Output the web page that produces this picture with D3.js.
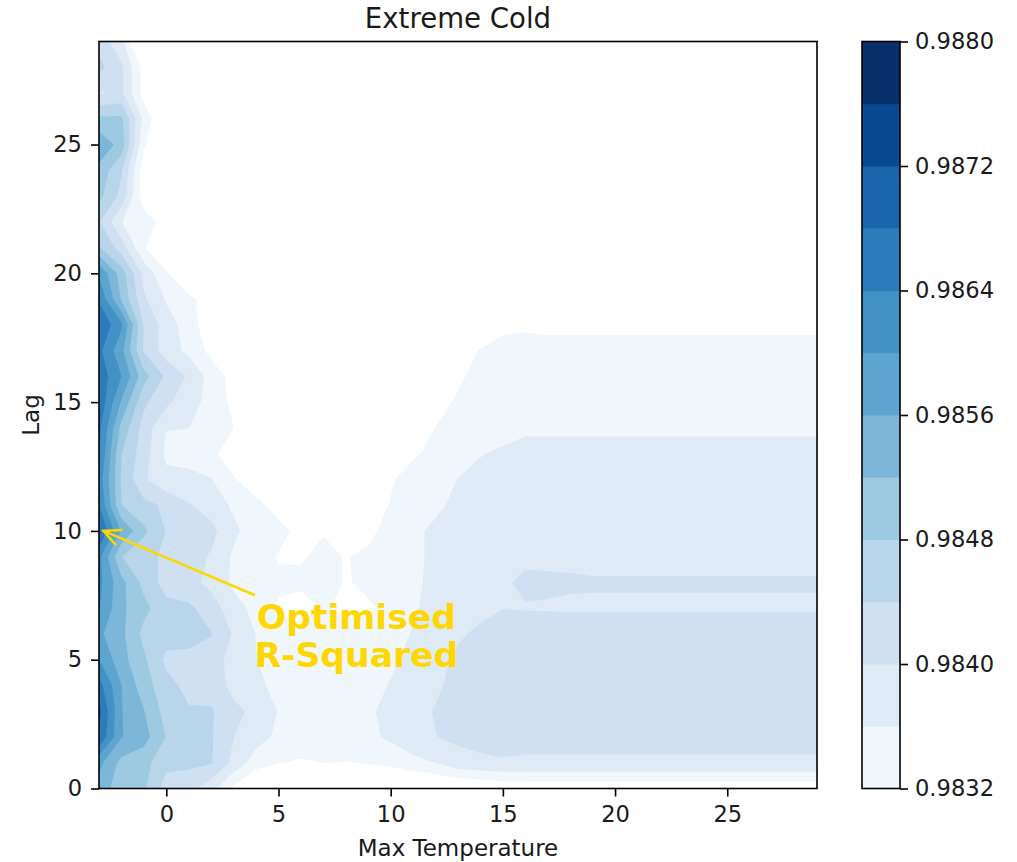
<!DOCTYPE html>
<html><head><meta charset="utf-8">
<script src="https://cdn.jsdelivr.net/npm/d3@7"></script>
<style>html,body{margin:0;padding:0;background:#fff}svg{display:block}
text{font-family:"DejaVu Sans",sans-serif;fill:#1a1a1a}</style>
</head><body><svg id="c" width="1017" height="862"></svg>
<script>
const chartTitle = "Extreme Cold";
const xLabel = "Max Temperature";
const yLabel = "Lag";
const xTicks = [0, 5, 10, 15, 20, 25];
const yTicks = [0, 5, 10, 15, 20, 25];
const colorbarTicks = [0.9832, 0.984, 0.9848, 0.9856, 0.9864, 0.9872, 0.988];
const levels = [0.9832,0.9836,0.984,0.9844,0.9848,0.9852,0.9856,0.986,0.9864,0.9868,0.9872,0.9876,0.988];
const bandColors = ["#eff6fc","#deebf7","#cee0f2","#b9d5ea","#9ecae1","#7cb7da","#5da5d1","#4292c6","#2c7cbb","#1966ad","#084a92","#08306b"];
const temperatures = [-3,-2,-1,0,1,2,3,4,5,6,7,8,9,10,11,12,13,14,15,16,17,18,19,20,21,22,23,24,25,26,27,28,29];
const rSquaredFloor = 0.9832, rSquaredStep = 0.0004;
// R-squared per lag and temperature, in steps above the floor
const lag00=[5.5,4.5,4.2,2.5,2.3,1.4,-.2,-1.5,-1.2,-1.2,-1.2,-1.2,-1,-1.1,-1.5,-1.2,-1.1,-.98,-.75,-.66,-.66,-.66,-.66,-.66,-.66,-.66,-.66,-.66,-.66,-.66,-.66,-.66,-.66];
const lag01=[6.3,4.7,4.35,3.3,3.25,3.08,1.7,.5,.02,-.1,.01,-.03,.05,.2,.74,1.01,1.63,1.85,1.95,1.9,1.9,1.9,1.9,1.9,1.9,1.9,1.9,1.9,1.9,1.9,1.9,1.9,1.9];
const lag02=[8.9,6.05,5.4,3.95,3.5,3.1,2.02,1.4,.8,.5,.5,.55,.75,1.2,1.6,1.98,2.2,2.25,2.2,2.2,2.2,2.2,2.2,2.2,2.2,2.2,2.2,2.2,2.2,2.2,2.2,2.2,2.2];
const lag03=[9.3,6.05,5.05,3.6,3.1,3.1,2.25,1.75,.95,.6,.55,.6,.85,1.3,1.75,2.05,2.3,2.4,2.4,2.4,2.4,2.4,2.4,2.4,2.4,2.4,2.4,2.4,2.4,2.4,2.4,2.4,2.4];
const lag04=[8.4,6.02,4.45,3.35,2.7,2.6,1.7,1.2,.75,.5,.45,.5,.7,1.05,1.45,1.85,2.3,2.4,2.45,2.4,2.4,2.4,2.4,2.4,2.4,2.4,2.4,2.4,2.4,2.4,2.4,2.4,2.4];
const lag05=[7.02,5.35,4.2,2.75,2.7,2.55,1.55,1.02,.55,.45,.4,.4,.55,.85,1.25,1.75,2.15,2.35,2.4,2.4,2.4,2.4,2.4,2.4,2.4,2.4,2.4,2.4,2.4,2.4,2.4,2.4,2.4];
const lag06=[6.2,5.25,3.7,3.45,3.4,3.05,1.9,.97,.5,.4,.35,.35,.4,.7,1.05,1.45,1.9,2.15,2.25,2.3,2.3,2.3,2.3,2.3,2.3,2.3,2.3,2.3,2.3,2.3,2.3,2.3,2.3];
const lag07=[7.1,5.2,4.3,3.3,3.2,2.5,1.4,.7,-.1,-.4,.1,-.2,-.15,.25,.9,1.3,1.55,1.8,1.99,1.97,1.96,1.95,1.95,1.95,1.95,1.95,1.95,1.95,1.95,1.95,1.95,1.95,1.95];
const lag08=[7.3,5.3,3.7,2.6,2.3,1.75,.8,.65,.15,.2,.5,-.1,.25,.6,.85,1.2,1.5,1.75,1.93,2.1,2.07,2.04,2.033,2.033,2.033,2.033,2.033,2.033,2.033,2.033,2.033,2.033,2.033];
const lag09=[7.3,4.02,3.4,2.75,2.4,1.9,.85,.4,-.06,-.1,.25,-.05,.2,.6,.85,1.15,1.45,1.7,1.8,1.9,1.91,1.93,1.9,1.9,1.9,1.9,1.9,1.9,1.9,1.9,1.9,1.9,1.9];
const lag10=[9.2,5.9,4.2,2.95,2.7,2.3,1.2,.5,.3,-.3,-.07,-.4,-.3,.45,.8,1.2,1.45,1.6,1.65,1.7,1.7,1.7,1.7,1.7,1.7,1.7,1.7,1.7,1.7,1.7,1.7,1.7,1.7];
const lag11=[8.02,4.02,3.3,2.8,2.1,1.5,.85,.3,-.4,-.7,-.8,-.7,-.4,.05,.5,.8,1.25,1.4,1.5,1.55,1.55,1.55,1.55,1.55,1.55,1.55,1.55,1.55,1.55,1.55,1.55,1.55,1.55];
const lag12=[7.6,3.9,2.15,1.25,1.25,1.05,.1,-.7,-1,-1.1,-1.1,-1,-.7,-.08,.3,.7,1.02,1.3,1.4,1.45,1.45,1.45,1.45,1.45,1.45,1.45,1.45,1.45,1.45,1.45,1.45,1.45,1.45];
const lag13=[8.1,4.02,2.45,.8,.65,.2,-.5,-1,-1.2,-1.2,-1.2,-1.2,-1,-.6,-.1,.2,.6,.95,1.15,1.3,1.3,1.3,1.3,1.3,1.3,1.3,1.3,1.3,1.3,1.3,1.3,1.3,1.3];
const lag14=[8.3,4.7,2.6,1.03,1.01,.6,.02,-.9,-1.2,-1.3,-1.3,-1.3,-1.2,-.8,-.3,.01,.35,.55,.65,.85,.85,.85,.85,.85,.85,.85,.85,.85,.85,.85,.85,.85,.85];
const lag15=[8.8,5.9,3.2,2.25,1.35,.7,-.28,-.9,-1.2,-1.3,-1.3,-1.3,-1.2,-1,-.5,-.2,.08,.4,.55,.6,.6,.6,.6,.6,.6,.6,.6,.6,.6,.6,.6,.6,.6];
const lag16=[8.65,7.02,4.4,2.8,1.85,.6,-.4,-.9,-1.2,-1.3,-1.3,-1.3,-1.3,-1.1,-.8,-.4,-.1,.2,.4,.45,.45,.45,.45,.45,.45,.45,.45,.45,.45,.45,.45,.45,.45];
const lag17=[8.3,6.3,2.9,1.5,.75,-.3,-1,-1.2,-1.3,-1.3,-1.3,-1.3,-1.3,-1.2,-1,-.6,-.25,.03,.25,.2,.18,.18,.18,.18,.18,.18,.18,.18,.18,.18,.18,.18,.18];
const lag18=[8.9,7.2,2.9,1.5,.5,-.7,-1.2,-1.3,-1.3,-1.3,-1.3,-1.3,-1.3,-1.3,-1.2,-.9,-.6,-.4,-.17,-.08,-.12,-.12,-.12,-.12,-.12,-.12,-.12,-.12,-.12,-.12,-.12,-.12,-.12];
const lag19=[7.9,4.9,2.15,.9,.25,-.5,-1.2,-1.3,-1.3,-1.3,-1.3,-1.3,-1.3,-1.3,-1.3,-1.2,-1.1,-1,-1,-1,-1,-1,-1,-1,-1,-1,-1,-1,-1,-1,-1,-1,-1];
const lag20=[6.9,4.5,1.7,.1,-1,-1.2,-1.3,-1.3,-1.3,-1.3,-1.3,-1.3,-1.3,-1.3,-1.3,-1.3,-1.2,-1.2,-1.2,-1.2,-1.2,-1.2,-1.2,-1.2,-1.2,-1.2,-1.2,-1.2,-1.2,-1.2,-1.2,-1.2,-1.2];
const lag21=[4.1,2.5,.1,-1.2,-1.3,-1.3,-1.3,-1.3,-1.3,-1.3,-1.3,-1.3,-1.3,-1.3,-1.3,-1.3,-1.3,-1.3,-1.3,-1.3,-1.3,-1.3,-1.3,-1.3,-1.3,-1.3,-1.3,-1.3,-1.3,-1.3,-1.3,-1.3,-1.3];
const lag22=[3.1,1.02,.5,-.4,-1.3,-1.3,-1.3,-1.3,-1.3,-1.3,-1.3,-1.3,-1.3,-1.3,-1.3,-1.3,-1.3,-1.3,-1.3,-1.3,-1.3,-1.3,-1.3,-1.3,-1.3,-1.3,-1.3,-1.3,-1.3,-1.3,-1.3,-1.3,-1.3];
const lag23=[4.3,2.7,-.6,-1.5,-1.5,-1.5,-1.5,-1.5,-1.5,-1.5,-1.5,-1.5,-1.5,-1.5,-1.5,-1.5,-1.5,-1.5,-1.5,-1.5,-1.5,-1.5,-1.5,-1.5,-1.5,-1.5,-1.5,-1.5,-1.5,-1.5,-1.5,-1.5,-1.5];
const lag24=[4.7,3.1,-.6,-1.5,-1.5,-1.5,-1.5,-1.5,-1.5,-1.5,-1.5,-1.5,-1.5,-1.5,-1.5,-1.5,-1.5,-1.5,-1.5,-1.5,-1.5,-1.5,-1.5,-1.5,-1.5,-1.5,-1.5,-1.5,-1.5,-1.5,-1.5,-1.5,-1.5];
const lag25=[5.8,4.6,.1,-1,-1.5,-1.5,-1.5,-1.5,-1.5,-1.5,-1.5,-1.5,-1.5,-1.5,-1.5,-1.5,-1.5,-1.5,-1.5,-1.5,-1.5,-1.5,-1.5,-1.5,-1.5,-1.5,-1.5,-1.5,-1.5,-1.5,-1.5,-1.5,-1.5];
const lag26=[4.2,4.21,.7,-1.3,-1.5,-1.5,-1.5,-1.5,-1.5,-1.5,-1.5,-1.5,-1.5,-1.5,-1.5,-1.5,-1.5,-1.5,-1.5,-1.5,-1.5,-1.5,-1.5,-1.5,-1.5,-1.5,-1.5,-1.5,-1.5,-1.5,-1.5,-1.5,-1.5];
const lag27=[1.9,2.2,-.4,-1.2,-1.5,-1.5,-1.5,-1.5,-1.5,-1.5,-1.5,-1.5,-1.5,-1.5,-1.5,-1.5,-1.5,-1.5,-1.5,-1.5,-1.5,-1.5,-1.5,-1.5,-1.5,-1.5,-1.5,-1.5,-1.5,-1.5,-1.5,-1.5,-1.5];
const lag28=[3.3,2.2,-.4,-1.2,-1.5,-1.5,-1.5,-1.5,-1.5,-1.5,-1.5,-1.5,-1.5,-1.5,-1.5,-1.5,-1.5,-1.5,-1.5,-1.5,-1.5,-1.5,-1.5,-1.5,-1.5,-1.5,-1.5,-1.5,-1.5,-1.5,-1.5,-1.5,-1.5];
const lag29=[2.6,1.3,-2,-2,-2,-2,-2,-2,-2,-2,-2,-2,-2,-2,-2,-2,-2,-2,-2,-2,-2,-2,-2,-2,-2,-2,-2,-2,-2,-2,-2,-2,-2];
const lagRows=[lag00,lag01,lag02,lag03,lag04,lag05,lag06,lag07,lag08,lag09,lag10,lag11,lag12,lag13,lag14,lag15,lag16,lag17,lag18,lag19,lag20,lag21,lag22,lag23,lag24,lag25,lag26,lag27,lag28,lag29];
const annotationLines = ["Optimised","R-Squared"];
const bestPoint = {temperature:-2.8, lag:10};

const svg = d3.select("#c");
const L=99,R=817,T=41.5,B=788.5;
const x = d3.scaleLinear().domain([-3,29]).range([L,R]);
const y = d3.scaleLinear().domain([0,29]).range([B,T]);

svg.append("defs").append("clipPath").attr("id","plot").append("rect")
  .attr("x",L).attr("y",T).attr("width",R-L).attr("height",B-T);

const values = lagRows.flat().map(s => rSquaredFloor + s*rSquaredStep);
const nx = temperatures.length, ny = lagRows.length;
const contours = d3.contours().size([nx,ny]).smooth(true).thresholds(levels.slice(0,-1))(values);
const proj = d3.geoTransform({point(px,py){
  this.stream.point(x(temperatures[0]+(px-0.5)), y(py-0.5));
}});
const path = d3.geoPath(proj);
svg.append("g").attr("clip-path","url(#plot)")
  .selectAll("path").data(contours).join("path")
  .attr("d",path).attr("fill",(d,i)=>bandColors[i]).attr("stroke","none");

const tickFont = 22.6;
function styleAxis(g){
  g.select(".domain").remove();
  g.selectAll(".tick line").attr("stroke","#000").attr("stroke-width",1.6);
  g.selectAll("text").attr("font-size",tickFont).attr("font-family",'"DejaVu Sans",sans-serif').attr("fill","#1a1a1a");
}
svg.append("g").attr("transform",`translate(0,${B})`)
  .call(d3.axisBottom(x).tickValues(xTicks).tickSize(8).tickPadding(9).tickFormat(d3.format("d"))).call(styleAxis);
svg.append("g").attr("transform",`translate(${L},0)`)
  .call(d3.axisLeft(y).tickValues(yTicks).tickSize(8).tickPadding(9).tickFormat(d3.format("d"))).call(styleAxis);
svg.append("rect").attr("x",L).attr("y",T).attr("width",R-L).attr("height",B-T)
  .attr("fill","none").attr("stroke","#000").attr("stroke-width",1.6);

svg.append("text").attr("x",(L+R)/2).attr("y",28).attr("text-anchor","middle").attr("font-size",27.6).text(chartTitle);
svg.append("text").attr("x",(L+R)/2).attr("y",856).attr("text-anchor","middle").attr("font-size",23).text(xLabel);
svg.append("text").attr("transform",`translate(39,${(T+B)/2}) rotate(-90)`).attr("text-anchor","middle").attr("font-size",23).text(yLabel);

// annotation
const tip=[x(bestPoint.temperature),y(bestPoint.lag)], tail=[x(3.95),y(7.5)];
const ang=Math.atan2(tail[1]-tip[1],tail[0]-tip[0]);
const gold="#ffd700";
svg.append("line").attr("x1",tail[0]).attr("y1",tail[1]).attr("x2",tip[0]).attr("y2",tip[1]).attr("stroke",gold).attr("stroke-width",2.6);
svg.append("path").attr("fill","none").attr("stroke",gold).attr("stroke-width",2.6)
  .attr("d",d3.line()([[tip[0]+19*Math.cos(ang-0.45),tip[1]+19*Math.sin(ang-0.45)],tip,[tip[0]+19*Math.cos(ang+0.45),tip[1]+19*Math.sin(ang+0.45)]]));
svg.selectAll("text.ann").data(annotationLines).join("text").attr("class","ann")
  .attr("x",x(8.47)).attr("y",(d,i)=>y(6.2)-(-i*38))
  .attr("text-anchor","middle").attr("font-size",34.6).attr("font-weight","bold")
  .style("fill",gold).text(d=>d);

// colourbar
const cbL=862,cbR=900;
const cy=d3.scaleLinear().domain([levels[0],levels[levels.length-1]]).range([B,T]);
svg.append("g").selectAll("rect").data(bandColors).join("rect")
  .attr("x",cbL).attr("width",cbR-cbL)
  .attr("y",(d,i)=>cy(levels[i+1])).attr("height",(d,i)=>cy(levels[i])-cy(levels[i+1])+0.5)
  .attr("fill",d=>d);
svg.append("g").attr("transform",`translate(${cbR},0)`)
  .call(d3.axisRight(cy).tickValues(colorbarTicks).tickSize(8).tickPadding(7).tickFormat(d3.format(".4f"))).call(styleAxis);
svg.append("rect").attr("x",cbL).attr("y",T).attr("width",cbR-cbL).attr("height",B-T)
  .attr("fill","none").attr("stroke","#000").attr("stroke-width",1.6);
</script></body></html>
